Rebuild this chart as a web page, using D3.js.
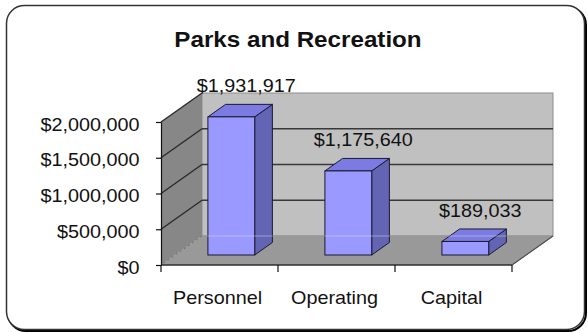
<!DOCTYPE html>
<html>
<head>
<meta charset="utf-8">
<script src="https://cdn.jsdelivr.net/npm/d3@7"></script>
<style>
  body { margin: 0; background: #fff; }
  text { font-family: "Liberation Sans", Arial, sans-serif; fill: #111; }
</style>
</head>
<body>
<div id="chart"></div>
<script>
const categories = ['Personnel', 'Operating', 'Capital']
const values = [1931917, 1175640, 189033]
const yTicks = [0, 500000, 1000000, 1500000, 2000000]
const gridValues = [500000, 1000000, 1500000]

let width = 588
let height = 333

// front plane of the plot and the depth offset of the 3d box
let x0 = 161, x1 = 512
let yBase = 265, yTop = 122
let dx = 41, dy = -29
let frontF = 0.345, backF = 0.776
let stretch = 1.1

let yScale = d3.scaleLinear()
	.domain([0, 2000000])
	.range([yBase, yTop])

let xScale = d3.scaleBand()
	.domain(categories)
	.range([x0, x1])

let fmt = d3.format('$,')

const svg = d3.select('#chart')
	.append('svg')
	.attr('width', width)
	.attr('height', height)

// frame with a small shadow
svg.append('rect')
	.attr('x', 8).attr('y', 7)
	.attr('width', 578).attr('height', 324)
	.attr('rx', 18)
	.attr('fill', 'none')
	.attr('stroke', '#000')
	.attr('stroke-width', 2)

svg.append('rect')
	.attr('x', 6.5).attr('y', 5.5)
	.attr('width', 578).attr('height', 324)
	.attr('rx', 18)
	.attr('fill', '#fff')
	.attr('stroke', '#333')
	.attr('stroke-width', 1.5)

svg.append('text')
	.attr('transform', `translate(${width / 2 + 4},47) scale(${stretch},1)`)
	.attr('text-anchor', 'middle')
	.attr('font-size', 22)
	.attr('font-weight', 'bold')
	.text('Parks and Recreation')

let pts = p => p.map(d => d.join(',')).join(' ')

// back wall
svg.append('rect')
	.attr('x', x0 + dx)
	.attr('y', yTop + dy)
	.attr('width', x1 - x0)
	.attr('height', yBase - yTop)
	.attr('fill', '#c0c0c0')
	.attr('stroke', '#8c8c8c')
	.attr('stroke-width', 1)

// side wall
svg.append('polygon')
	.attr('points', pts([[x0, yBase], [x0, yTop], [x0 + dx, yTop + dy], [x0 + dx, yBase + dy]]))
	.attr('fill', '#878787')

// floor
svg.append('polygon')
	.attr('points', pts([[x0, yBase], [x1, yBase], [x1 + dx, yBase + dy], [x0 + dx, yBase + dy]]))
	.attr('fill', '#999999')
	.attr('stroke', '#6a6a6a')
	.attr('stroke-width', 1)

// gridlines on back and side wall
svg.selectAll('.backGrid')
	.data(gridValues)
	.enter()
	.append('line')
	.attr('x1', x0 + dx)
	.attr('x2', x1 + dx)
	.attr('y1', d => yScale(d) + dy)
	.attr('y2', d => yScale(d) + dy)
	.attr('stroke', '#383838')
	.attr('stroke-width', 1.6)

svg.selectAll('.sideGrid')
	.data(gridValues.concat([2000000]))
	.enter()
	.append('line')
	.attr('x1', x0)
	.attr('x2', x0 + dx)
	.attr('y1', d => yScale(d))
	.attr('y2', d => yScale(d) + dy)
	.attr('stroke', '#2a2a2a')
	.attr('stroke-width', 1.4)

svg.append('line')
	.attr('x1', x0).attr('y1', yBase)
	.attr('x2', x0 + dx).attr('y2', yBase + dy)
	.attr('stroke', '#b0b0b0')
	.attr('stroke-dasharray', '3,2')

// bars
let bars = categories.map((c, i) => {
	let bw = xScale.bandwidth()
	let bx = xScale(c) + bw * 0.28
	let w = bw * 0.4
	let yv = yScale(values[i])
	return {
		c: c, v: values[i],
		fx: bx + dx * frontF, bx2: bx + dx * backF,
		w: w, yv: yv
	}
})

let fy = dy * frontF, by = dy * backF

let barG = svg.selectAll('.bar')
	.data(bars)
	.enter()
	.append('g')
	.attr('class', 'bar')

barG.append('polygon')
	.attr('points', d => pts([[d.fx + d.w, d.yv + fy], [d.bx2 + d.w, d.yv + by], [d.bx2 + d.w, yBase + by], [d.fx + d.w, yBase + fy]]))
	.attr('fill', '#6464b4')
	.attr('stroke', '#1a1a33')
	.attr('stroke-width', 1)

barG.append('polygon')
	.attr('points', d => pts([[d.fx, d.yv + fy], [d.fx + d.w, d.yv + fy], [d.bx2 + d.w, d.yv + by], [d.bx2, d.yv + by]]))
	.attr('fill', '#7b7be2')
	.attr('stroke', '#1a1a33')
	.attr('stroke-width', 1)

barG.append('rect')
	.attr('x', d => d.fx)
	.attr('y', d => d.yv + fy)
	.attr('width', d => d.w)
	.attr('height', d => yBase - d.yv)
	.attr('fill', '#9999ff')
	.attr('stroke', '#1a1a33')
	.attr('stroke-width', 1)

// faint floor back edge shows through the bars
svg.append('line')
	.attr('x1', x0 + dx).attr('x2', x1 + dx)
	.attr('y1', yBase + dy).attr('y2', yBase + dy)
	.attr('stroke', '#e8e8e8')
	.attr('stroke-opacity', 0.45)

// value labels
barG.append('text')
	.attr('transform', d => `translate(${d.fx + d.w / 2 + 15},${d.yv + by - 12}) scale(${stretch},1)`)
	.attr('text-anchor', 'middle')
	.attr('font-size', 18)
	.text(d => fmt(d.v))

// y axis
let yAxis = g => g.attr('transform', `translate(${x0},0)`)
	.call(d3.axisLeft(yScale).tickValues(yTicks).tickFormat(fmt).tickSize(5).tickPadding(14.5).tickSizeOuter(0))

let yG = svg.append('g').call(yAxis)
yG.select('.domain').attr('stroke', '#111').attr('stroke-width', 1.2)
yG.selectAll('line').attr('stroke', '#111').attr('stroke-width', 1.2)
yG.selectAll('text')
	.attr('font-size', 18)
	.attr('font-family', '"Liberation Sans", Arial, sans-serif')
	.attr('fill', '#111')
	.attr('dy', '0.45em')
	.attr('transform', `scale(${stretch},1)`)

// x axis
svg.append('line')
	.attr('x1', x0).attr('x2', x1)
	.attr('y1', yBase).attr('y2', yBase)
	.attr('stroke', '#111')
	.attr('stroke-width', 1.2)

svg.append('line')
	.attr('x1', x1).attr('y1', yBase)
	.attr('x2', x1 + dx).attr('y2', yBase + dy)
	.attr('stroke', '#555')
	.attr('stroke-width', 1.2)

svg.selectAll('.xTick')
	.data(categories.map(c => xScale(c)).concat([x1]))
	.enter()
	.append('line')
	.attr('x1', d => d).attr('x2', d => d)
	.attr('y1', yBase).attr('y2', yBase + 7)
	.attr('stroke', '#111')
	.attr('stroke-width', 1.2)

svg.selectAll('.xLabel')
	.data(categories)
	.enter()
	.append('text')
	.attr('transform', d => `translate(${xScale(d) + xScale.bandwidth() / 2 - 2},304) scale(${stretch},1)`)
	.attr('text-anchor', 'middle')
	.attr('font-size', 18)
	.text(d => d)
</script>
</body>
</html>
